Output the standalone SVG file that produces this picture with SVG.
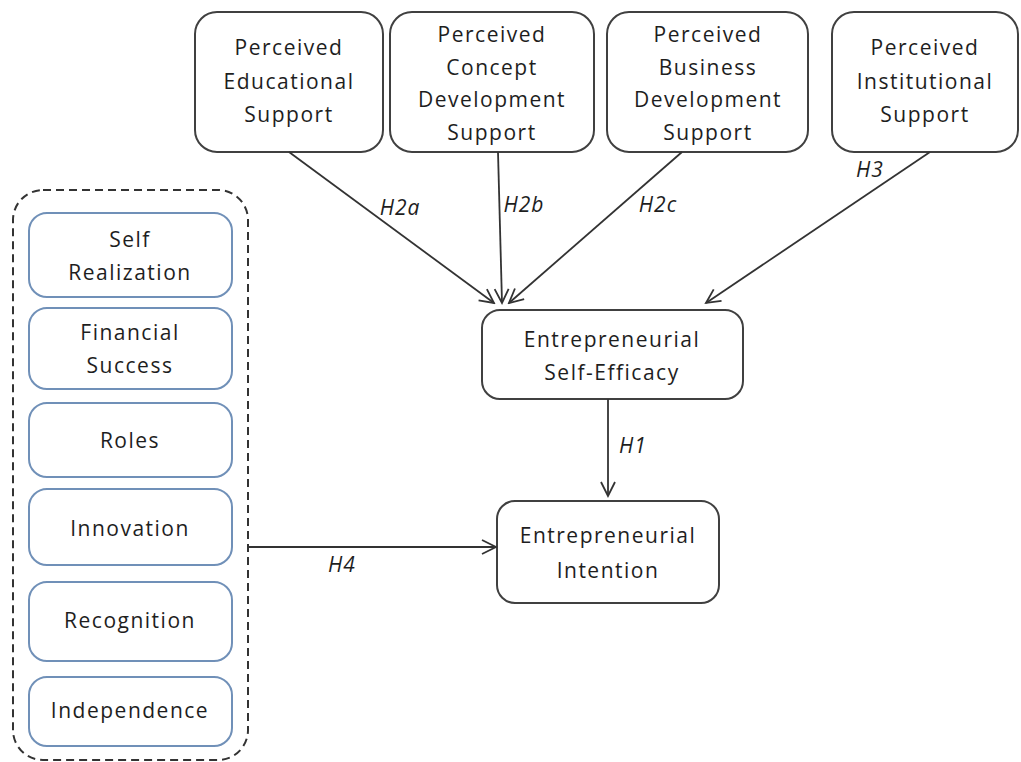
<svg xmlns="http://www.w3.org/2000/svg" width="1021" height="762" viewBox="0 0 1021 762">
<defs>
<style>
.n{fill:#fff;stroke:#404040;stroke-width:2}
.b{fill:#fff;stroke:#7090b8;stroke-width:2}
.t{font-family:"Open Sans","Liberation Sans",sans-serif;font-size:21px;letter-spacing:1.5px;fill:#1e1e1e;text-anchor:middle}
.h{font-family:"Open Sans","Liberation Sans",sans-serif;font-size:21px;font-style:italic;letter-spacing:1px;fill:#1e1e1e;text-anchor:middle}
.c{stroke:#333;stroke-width:1.8;fill:none;marker-end:url(#ah)}
</style>
<marker id="ah" viewBox="0 0 20 20" refX="18" refY="10" markerWidth="20" markerHeight="20" markerUnits="userSpaceOnUse" orient="auto">
<path d="M4,3 L18,10 L4,17" fill="none" stroke="#333" stroke-width="1.8"/>
</marker>
</defs>
<rect width="1021" height="762" fill="#fff"/>

<g id="group-motivations">
<rect x="13" y="190" width="235" height="570" rx="30" fill="none" stroke="#333" stroke-width="2" stroke-dasharray="8,5"/>
</g>
<g id="self-realization"><rect class="b" x="29" y="213" width="203" height="84" rx="18"/><text class="t" x="130" y="247">Self</text><text class="t" x="130" y="280">Realization</text></g>
<g id="financial-success"><rect class="b" x="29" y="308" width="203" height="81" rx="18"/><text class="t" x="130" y="340">Financial</text><text class="t" x="130" y="373">Success</text></g>
<g id="roles"><rect class="b" x="29" y="403" width="203" height="74" rx="18"/><text class="t" x="130" y="448">Roles</text></g>
<g id="innovation"><rect class="b" x="29" y="489" width="203" height="76" rx="18"/><text class="t" x="130" y="536">Innovation</text></g>
<g id="recognition"><rect class="b" x="29" y="582" width="203" height="79" rx="18"/><text class="t" x="130" y="628">Recognition</text></g>
<g id="independence"><rect class="b" x="29" y="677" width="203" height="69" rx="18"/><text class="t" x="130" y="718">Independence</text></g>

<g id="perceived-educational-support"><rect class="n" x="195" y="12" width="188" height="140" rx="22"/>
<text class="t" x="289" y="55">Perceived</text><text class="t" x="289" y="89">Educational</text><text class="t" x="289" y="122">Support</text></g>
<g id="perceived-concept-development-support"><rect class="n" x="390" y="12" width="204" height="140" rx="22"/>
<text class="t" x="492" y="42">Perceived</text><text class="t" x="492" y="75">Concept</text><text class="t" x="492" y="107">Development</text><text class="t" x="492" y="140">Support</text></g>
<g id="perceived-business-development-support"><rect class="n" x="607" y="12" width="201" height="140" rx="22"/>
<text class="t" x="708" y="42">Perceived</text><text class="t" x="708" y="75">Business</text><text class="t" x="708" y="107">Development</text><text class="t" x="708" y="140">Support</text></g>
<g id="perceived-institutional-support"><rect class="n" x="832" y="12" width="186" height="140" rx="22"/>
<text class="t" x="925" y="55">Perceived</text><text class="t" x="925" y="89">Institutional</text><text class="t" x="925" y="122">Support</text></g>

<g id="entrepreneurial-self-efficacy"><rect class="n" x="482" y="310" width="261" height="89" rx="18"/>
<text class="t" x="612" y="347">Entrepreneurial</text><text class="t" x="612" y="380">Self-Efficacy</text></g>
<g id="entrepreneurial-intention"><rect class="n" x="497" y="501" width="222" height="102" rx="18"/>
<text class="t" x="608" y="543">Entrepreneurial</text><text class="t" x="608" y="578">Intention</text></g>

<g id="connectors">
<line class="c" x1="289" y1="152" x2="494" y2="303"/>
<line class="c" x1="498" y1="152" x2="502" y2="303"/>
<line class="c" x1="682" y1="152" x2="509" y2="303"/>
<line class="c" x1="930" y1="152" x2="706" y2="303"/>
<line class="c" x1="608" y1="399" x2="608" y2="496"/>
<line class="c" x1="248" y1="547" x2="496" y2="547"/>
</g>
<g id="labels">
<text class="h" x="400" y="215">H2a</text>
<text class="h" x="524" y="212">H2b</text>
<text class="h" x="658" y="212">H2c</text>
<text class="h" x="870" y="177">H3</text>
<text class="h" x="633" y="453">H1</text>
<text class="h" x="342" y="572">H4</text>
</g>
</svg>
